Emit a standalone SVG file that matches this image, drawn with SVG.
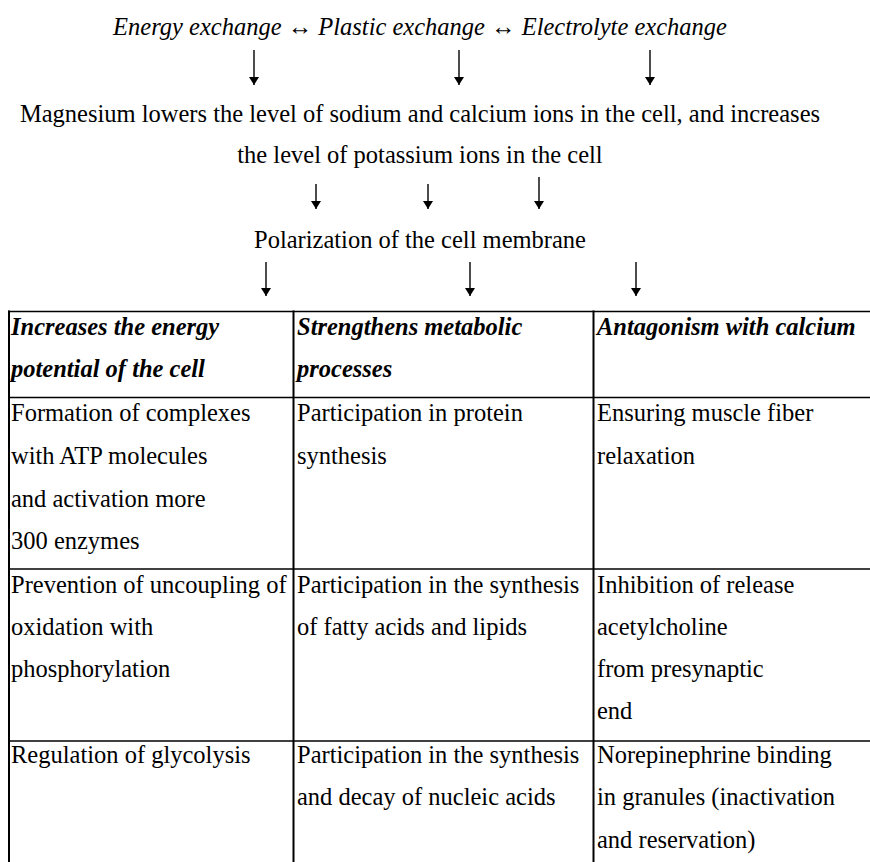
<svg xmlns="http://www.w3.org/2000/svg" width="870" height="862" viewBox="0 0 870 862">
<defs>
<marker id="ah" viewBox="0 0 8 10" refX="8" refY="5" markerWidth="8" markerHeight="10" markerUnits="userSpaceOnUse" orient="auto">
<path d="M0,0 L8,5 L0,10 Z" fill="#000"/>
</marker>
<style>
text{font-family:"Liberation Serif","Times New Roman",serif;font-size:24.5px;fill:#000}
.it{font-style:italic}
.hd{font-style:italic;font-weight:bold}
.c{text-anchor:middle}
.arr{stroke:#000;stroke-width:1.4;fill:none;marker-end:url(#ah)}
.hl{stroke:#000;stroke-width:1.5}
.vl{stroke:#000;stroke-width:2}
</style>
</defs>
<rect width="870" height="862" fill="#fff"/>
<g id="exchange">
<text class="it c" x="420" y="35">Energy exchange ↔ Plastic exchange ↔ Electrolyte exchange</text>
</g>
<g id="magnesium">
<text class="c" x="420" y="122">Magnesium lowers the level of sodium and calcium ions in the cell, and increases</text>
<text class="c" x="420" y="163">the level of potassium ions in the cell</text>
</g>
<g id="polarization">
<text class="c" x="420" y="248">Polarization of the cell membrane</text>
</g>
<g id="connectors">
<line class="arr" x1="254" y1="50" x2="254" y2="85"/>
<line class="arr" x1="459" y1="50" x2="459" y2="85"/>
<line class="arr" x1="650" y1="50" x2="650" y2="85"/>
<line class="arr" x1="316" y1="184" x2="316" y2="209"/>
<line class="arr" x1="428" y1="184" x2="428" y2="209"/>
<line class="arr" x1="539" y1="177" x2="539" y2="209"/>
<line class="arr" x1="266" y1="262" x2="266" y2="296"/>
<line class="arr" x1="470" y1="262" x2="470" y2="296"/>
<line class="arr" x1="636" y1="262" x2="636" y2="296"/>
</g>
<g id="table-grid">
<line class="hl" x1="8" y1="311.5" x2="870" y2="311.5"/>
<line class="hl" x1="8" y1="397.5" x2="870" y2="397.5"/>
<line class="hl" x1="8" y1="569" x2="870" y2="569"/>
<line class="hl" x1="8" y1="741" x2="870" y2="741"/>
<line class="vl" x1="9" y1="310.5" x2="9" y2="862"/>
<line class="vl" x1="293.5" y1="310.5" x2="293.5" y2="862"/>
<line class="vl" x1="593.5" y1="310.5" x2="593.5" y2="862"/>
</g>
<g id="h1">
<text class="hd" x="11" y="335">Increases the energy</text>
<text class="hd" x="11" y="377">potential of the cell</text>
</g>
<g id="h2">
<text class="hd" x="297" y="335">Strengthens metabolic</text>
<text class="hd" x="297" y="377">processes</text>
</g>
<g id="h3">
<text class="hd" x="597" y="335">Antagonism with calcium</text>
</g>
<g id="r1c1">
<text x="11" y="421">Formation of complexes</text>
<text x="11" y="464">with ATP molecules</text>
<text x="11" y="507">and activation more</text>
<text x="11" y="549">300 enzymes</text>
</g>
<g id="r1c2">
<text x="297" y="421">Participation in protein</text>
<text x="297" y="464">synthesis</text>
</g>
<g id="r1c3">
<text x="597" y="421">Ensuring muscle fiber</text>
<text x="597" y="464">relaxation</text>
</g>
<g id="r2c1">
<text x="11" y="593">Prevention of uncoupling of</text>
<text x="11" y="635">oxidation with</text>
<text x="11" y="677">phosphorylation</text>
</g>
<g id="r2c2">
<text x="297" y="593">Participation in the synthesis</text>
<text x="297" y="635">of fatty acids and lipids</text>
</g>
<g id="r2c3">
<text x="597" y="593">Inhibition of release</text>
<text x="597" y="635">acetylcholine</text>
<text x="597" y="677">from presynaptic</text>
<text x="597" y="719">end</text>
</g>
<g id="r3c1">
<text x="11" y="763">Regulation of glycolysis</text>
</g>
<g id="r3c2">
<text x="297" y="763">Participation in the synthesis</text>
<text x="297" y="805">and decay of nucleic acids</text>
</g>
<g id="r3c3">
<text x="597" y="763">Norepinephrine binding</text>
<text x="597" y="805">in granules (inactivation</text>
<text x="597" y="848">and reservation)</text>
</g>
</svg>
